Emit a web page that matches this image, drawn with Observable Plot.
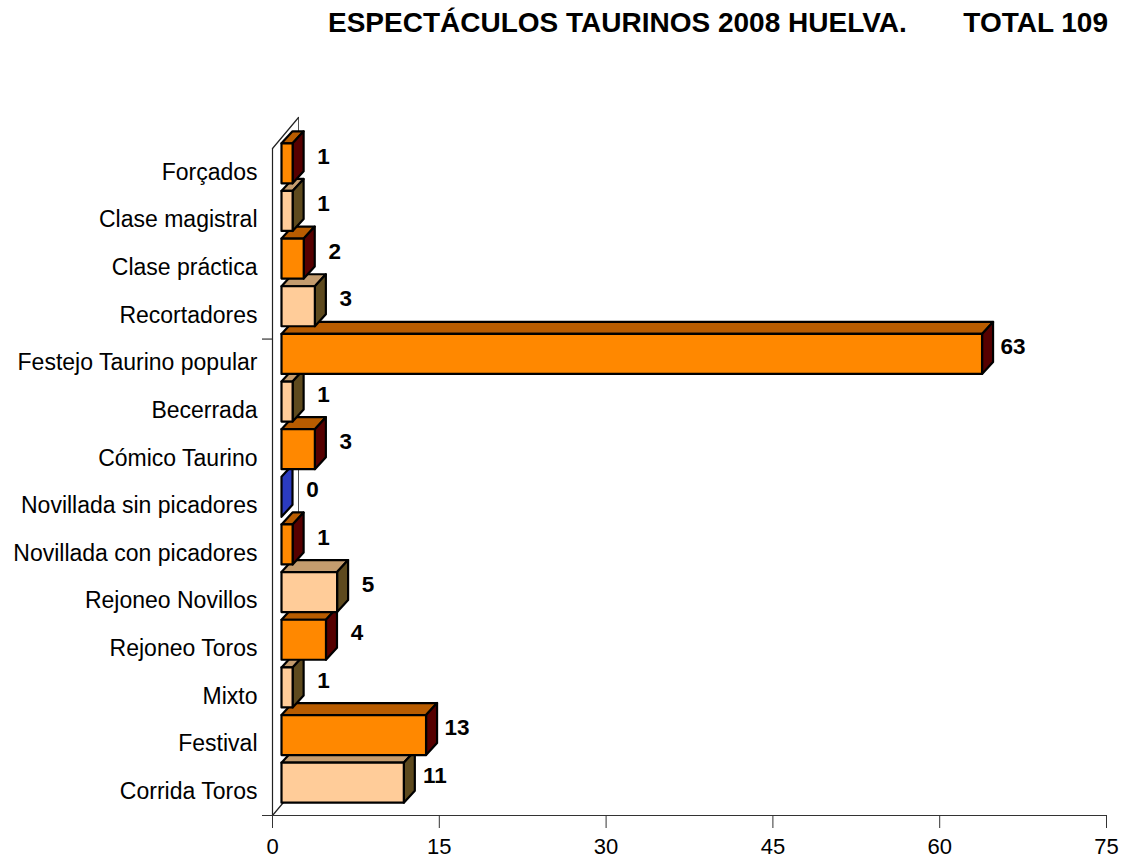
<!DOCTYPE html>
<html><head><meta charset="utf-8">
<script src="https://cdn.jsdelivr.net/npm/d3@7"></script>
<script src="https://cdn.jsdelivr.net/npm/@observablehq/plot@0.6"></script>
<style>
body{margin:0;background:#fff;}
#wrap{position:relative;width:1123px;height:858px;font-family:"Liberation Sans",Arial,sans-serif;}
.t{position:absolute;top:9px;font-weight:bold;font-size:28px;line-height:28px;white-space:nowrap;color:#000}
</style></head><body>
<div id="wrap"></div>
<script>
const categories = ["Corrida Toros","Festival","Mixto","Rejoneo Toros","Rejoneo Novillos","Novillada con picadores","Novillada sin picadores","Cómico Taurino","Becerrada","Festejo Taurino popular","Recortadores","Clase práctica","Clase magistral","Forçados"];
const values = [11,13,1,4,5,1,0,3,1,63,3,2,1,1];
const xTicks = [0,15,30,45,60,75];
const titleText = "ESPECTÁCULOS TAURINOS 2008 HUELVA.";
const totalText = "TOTAL 109";

const W = 1123, H = 858, mL = 272, mR = 17, mT = 148, mB = 43;
const xMax = 75;
const n = categories.length;
const kx = (W - mL - mR) / xMax;
const ky = (H - mT - mB) / n;
const ux = p => p / kx, uy = p => p / ky;

const palette = {
  peach: {front: "#FFCC99", top: "#C49C6E", side: "#5E4A1E"},
  orange: {front: "#FF8800", top: "#B85C00", side: "#560000"},
  zero: "#2B3BC0"
};

// build 3D bar faces (polygons) from the data
const faces = [];
const x0 = ux(9), ddx = ux(11), ddy = uy(12);
categories.forEach((c, i) => {
  const v = values[i];
  const col = i % 2 === 0 ? palette.peach : palette.orange;
  const x1 = v + x0, yT = i + uy(29), yB = i - uy(11);
  const poly = (name, pts, fill) => pts.concat([pts[0]]).forEach(([x, y]) => faces.push({id: i + name, x, y, fill}));
  if (v > 0) poly("top", [[x0, yT], [x1, yT], [x1 + ddx, yT + ddy], [x0 + ddx, yT + ddy]], col.top);
  poly("side", [[x1, yT], [x1 + ddx, yT + ddy], [x1 + ddx, yB + ddy], [x1, yB]], v > 0 ? col.side : palette.zero);
  if (v > 0) poly("front", [[x0, yT], [x1, yT], [x1, yB], [x0, yB]], col.front);
});

const yLo = -0.5, yHi = n - 0.5;
const wx = ux(26), wy = uy(31);
const idx = d3.range(n);

const chart = Plot.plot({
  width: W, height: H,
  marginLeft: mL, marginRight: mR, marginTop: mT, marginBottom: mB,
  style: {fontFamily: "'Liberation Sans', Arial, sans-serif", fontSize: "22px", color: "#000", background: "transparent"},
  x: {domain: [0, xMax]},
  y: {domain: [yLo, yHi]},
  marks: [
    // back wall / floor edges
    Plot.line([[wx, yLo + wy], [wx, yHi + wy]], {stroke: "#555", strokeWidth: 1}),
    Plot.line([[0, yHi], [wx, yHi + wy]], {stroke: "#222", strokeWidth: 1.2}),
    Plot.line([[0, yLo], [wx, yLo + wy]], {stroke: "#222", strokeWidth: 1.2}),
    Plot.ruleX([0], {y1: yLo, y2: yHi, stroke: "#222", strokeWidth: 1.2}),
    Plot.ruleY([yLo], {x1: -ux(10), x2: xMax, stroke: "#333", strokeWidth: 1.2}),
    Plot.ruleY([9.5], {x1: -ux(10), x2: 0, stroke: "#333", strokeWidth: 1.2}),
    // bars
    Plot.line(faces, {x: "x", y: "y", z: "id", fill: "fill", stroke: "#000", strokeWidth: 2.2, strokeLinejoin: "round", curve: "linear"}),
    // value labels
    Plot.text(idx, {x: i => values[i], y: i => i, text: i => String(values[i]), dx: 40, dy: -16, fontWeight: "bold", fontSize: 22.5, fill: "#000"}),
    Plot.axisX({ticks: xTicks, tickSize: 13, tickPadding: 10, label: null, fontSize: 22, stroke: "#333"}),
    Plot.axisY({ticks: idx, tickFormat: i => categories[i], tickSize: 0, tickPadding: 15, label: null, fontSize: 23})
  ]
});
const wrap = document.getElementById("wrap");
wrap.appendChild(chart);
chart.style.position = "absolute"; chart.style.left = "0"; chart.style.top = "0";
const t1 = document.createElement("div"); t1.className = "t"; t1.style.left = "328px"; t1.textContent = titleText;
const t2 = document.createElement("div"); t2.className = "t"; t2.style.right = "15px"; t2.textContent = totalText;
wrap.appendChild(t1); wrap.appendChild(t2);
</script>
</body></html>
